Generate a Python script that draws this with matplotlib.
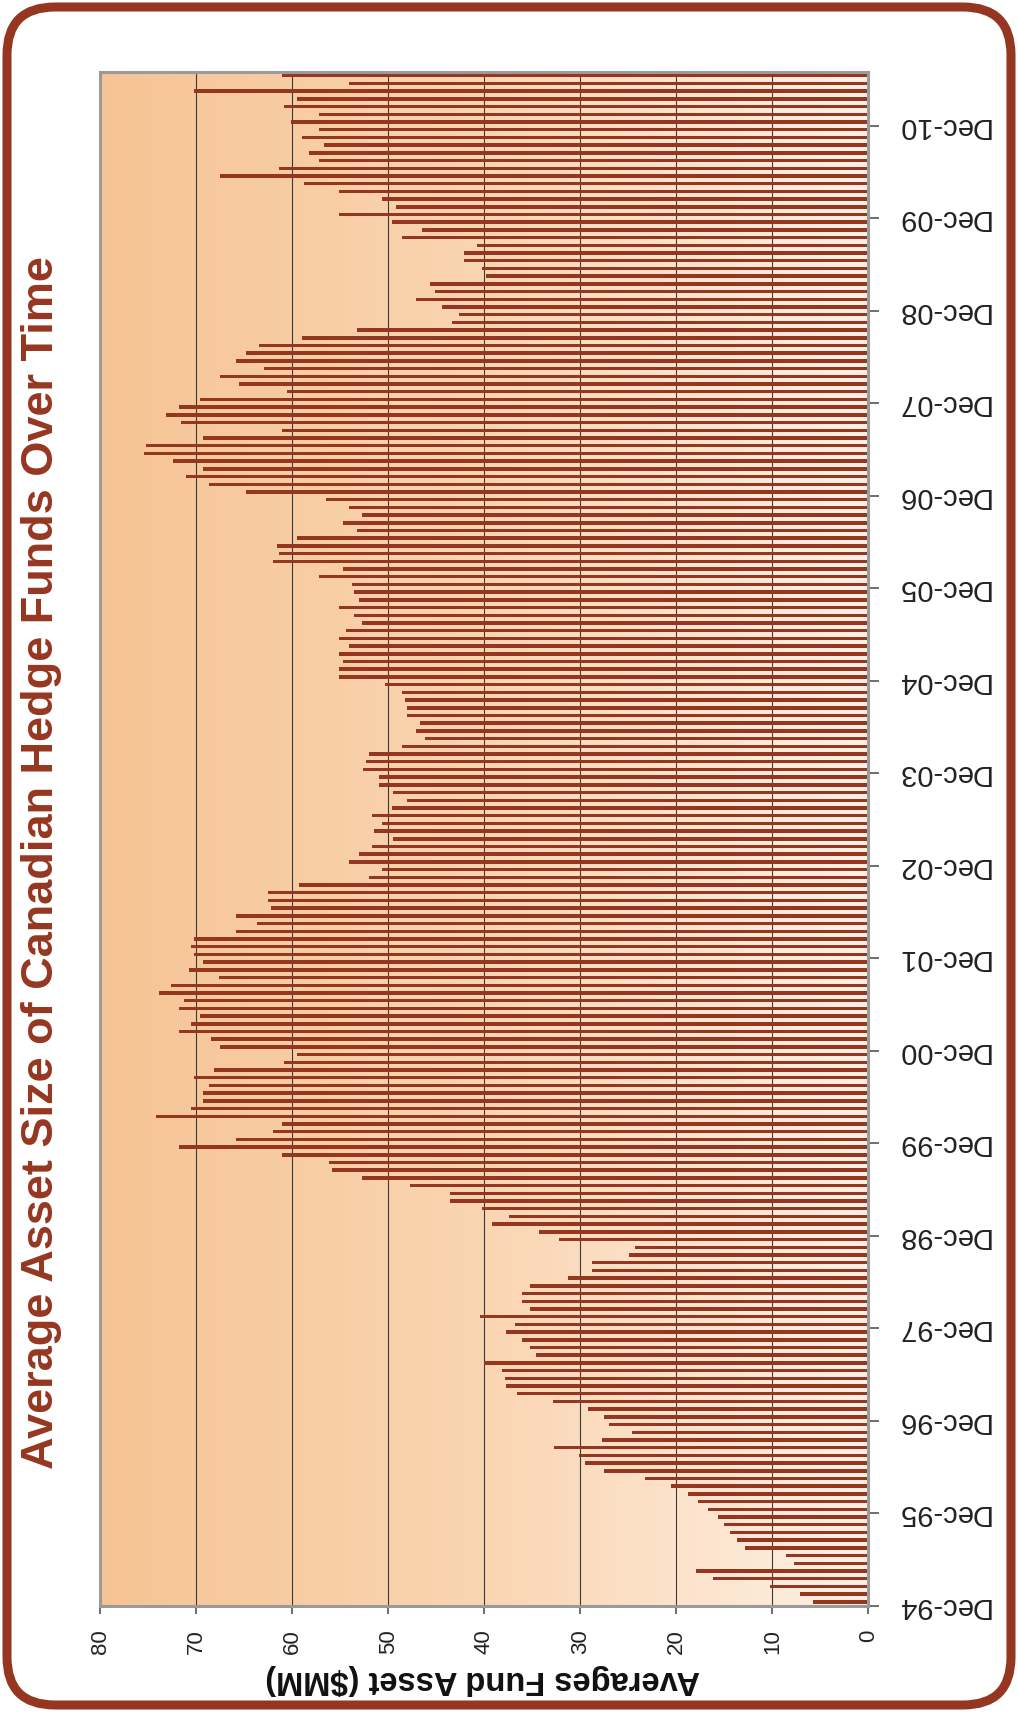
import numpy as np
import matplotlib.pyplot as plt
from matplotlib.patches import FancyBboxPatch
from matplotlib.colors import LinearSegmentedColormap

plt.rcParams['font.family'] = ['Liberation Sans', 'DejaVu Sans']

# monthly average fund asset ($MM), oldest first (Dec-94 onwards)
avg_asset = [
    5.8, 7.1, 10.2, 16.2, 18.0, 7.7, 8.6, 12.9, 13.7, 14.4, 15.0, 15.7, 16.7, 17.8, 18.8,
    20.6, 23.3, 27.5, 29.5, 30.1, 32.7, 27.7, 24.6, 27.0, 27.5, 29.2, 32.9, 36.6, 37.7, 37.9,
    38.2, 40.0, 34.6, 35.3, 36.1, 37.7, 36.8, 40.5, 35.3, 36.1, 36.1, 35.3, 31.3, 28.8, 28.8,
    24.9, 24.3, 32.2, 34.3, 39.2, 37.4, 40.3, 43.6, 43.6, 47.8, 52.8, 55.9, 56.2, 61.1, 71.8,
    65.9, 62.0, 61.1, 74.2,
    70.6, 69.3, 69.3, 68.7, 70.3, 68.2, 60.9, 59.5, 67.5, 68.5, 71.8, 70.6, 69.6, 71.8, 71.3,
    73.9, 72.7, 67.7, 70.8, 69.3, 70.3, 70.6, 70.3, 65.9, 63.7, 65.9, 62.2, 62.5, 62.5, 59.3,
    52.0, 50.7, 54.1, 53.1,
    51.7, 49.5, 51.5, 50.7, 51.7, 49.6, 48.1, 49.5, 51.0, 51.0, 52.6, 52.3, 52.0, 48.6, 46.2,
    47.1, 46.7, 48.1, 48.1, 48.3, 48.6, 50.4, 55.2, 55.2, 54.7, 55.2, 54.1, 55.2, 54.4, 52.8,
    53.6, 55.2, 53.1, 53.6,
    53.8, 57.2, 54.7, 62.0, 61.4, 61.6, 59.5, 53.3, 54.7, 52.8, 54.1, 56.5, 64.8, 68.7, 71.1,
    69.3, 72.4, 75.5, 75.3, 69.3, 61.1, 71.6, 73.2, 71.8, 69.6, 60.6, 65.6, 67.5, 63.0, 65.9,
    64.8, 63.5, 59.0, 53.3,
    43.4, 42.6, 44.4, 47.1, 45.2, 45.7, 39.8, 40.3, 42.1, 42.1, 40.8, 48.6, 46.5, 49.6, 55.2,
    49.2, 50.7, 55.2, 58.8, 67.5, 61.4, 57.2, 58.3, 56.7, 59.0, 57.2, 60.1, 57.2, 60.9, 59.5,
    70.3, 54.1, 61.1,
]
year_labels = ['Dec-94', 'Dec-95', 'Dec-96', 'Dec-97', 'Dec-98', 'Dec-99', 'Dec-00', 'Dec-01',
               'Dec-02', 'Dec-03', 'Dec-04', 'Dec-05', 'Dec-06', 'Dec-07', 'Dec-08', 'Dec-09',
               'Dec-10']
value_ticks = [0, 10, 20, 30, 40, 50, 60, 70, 80]

rust = '#953620'

fig = plt.figure(figsize=(10.18, 17.12), dpi=100)

# rounded border round the whole chart
border = FancyBboxPatch((7, 7), 1004, 1698, boxstyle='round,pad=0,rounding_size=48',
                        transform=None, fill=False, edgecolor=rust, linewidth=6.5)
fig.patches.append(border)

ax = fig.add_axes([0.0987, 0.0621, 0.7543, 0.8959])

# peach gradient background
cmap = LinearSegmentedColormap.from_list('peach', ['#F6C494', '#FAD5B2', '#FEF0E4'])
grad = np.linspace(0, 1, 256).reshape(1, -1)
ax.imshow(grad, cmap=cmap, aspect='auto', extent=[80, 0, -0.5, len(avg_asset) - 0.5],
          zorder=0)

y = np.arange(len(avg_asset))
ax.barh(y, avg_asset, height=0.45, color=rust, zorder=3)

ax.set_xlim(80, 0)
ax.set_ylim(-0.5, len(avg_asset) - 0.5)

for v in value_ticks[1:-1]:
    ax.axvline(v, color='#3a3a3a', lw=0.8, zorder=1)

for s in ax.spines.values():
    s.set_color('#9a9a9a')
    s.set_linewidth(2.2)
    s.set_zorder(4)

ax.set_xticks(value_ticks)
ax.set_xticklabels([str(v) for v in value_ticks], rotation=90, fontsize=16, color='#222222')
ax.tick_params(axis='x', length=6, width=1.2, color='#555555', pad=11)

ax.yaxis.tick_right()
ax.set_yticks([12 * k - 0.5 for k in range(len(year_labels))])
ax.set_yticklabels(year_labels, rotation=180, fontsize=21, color='#222222',
                   va='center', ha='left')
ax.tick_params(axis='y', length=8, width=1.2, color='#555555', pad=12)

fig.text(0.041, 0.496, 'Average Asset Size of Canadian Hedge Funds Over Time',
         rotation=90, fontsize=32.5, fontweight='bold', color=rust, ha='center', va='center')
fig.text(0.474, 0.019, 'Averages Fund Asset ($MM)', rotation=180, fontsize=23.5,
         fontweight='bold', color='#111111', ha='center', va='center')

fig.savefig('out.png', dpi=100)
